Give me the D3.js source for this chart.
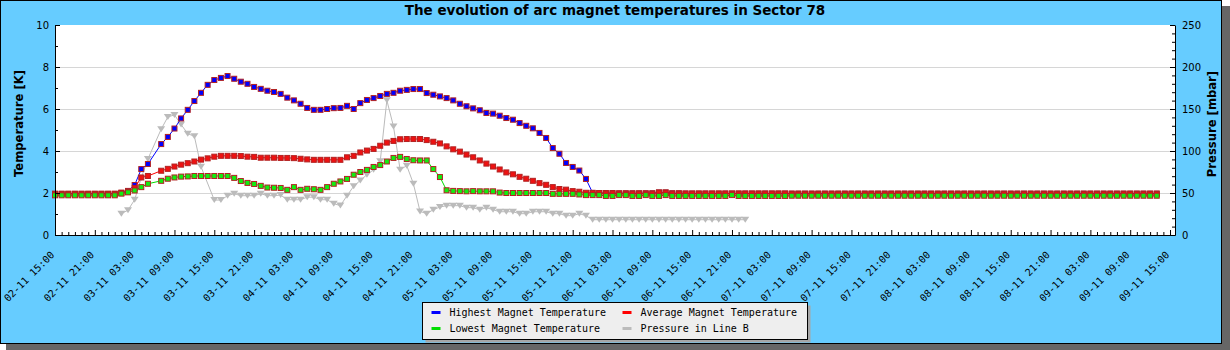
<!DOCTYPE html>
<html><head><meta charset="utf-8">
<script src="https://cdn.jsdelivr.net/npm/d3@7"></script>
<style>body{margin:0;background:#fff}svg{display:block}</style>
</head><body><svg id="c" width="1230" height="350"></svg>
<script>
// ---------- DATA ----------
const chartTitle = "The evolution of arc magnet temperatures in Sector 78";
const seriesNames = ["Highest Magnet Temperature","Average Magnet Temperature","Lowest Magnet Temperature","Pressure in Line B"];
const startTime = "2011-11-02 15:00";     // first temperature sample (hourly)
const axisEndTime = "2011-11-09 15:45";
const pressureStartTime = "2011-11-03 01:00"; // first pressure sample (hourly)
const tempTicks = [0,2,4,6,8,10];
const tempMinorTicks = [1,3,5,7,9];
const pressureTicks = [0,50,100,150,200,250];
const pressureMinorTicks = [10,20,30,40,60,70,80,90,110,120,130,140,160,170,180,190,210,220,230,240];

const highTemp = [
1.97,1.97,1.97,1.97,1.97,1.97,1.97,1.97,1.97,1.97,
2.02,2.10,2.38,3.14,3.38,null,4.33,4.67,5.07,5.55,
5.96,6.38,6.77,7.15,7.38,7.48,7.57,7.44,7.30,7.20,
7.05,6.96,6.87,6.81,6.72,6.54,6.41,6.25,6.05,5.96,
5.96,6.00,6.04,6.05,6.15,6.00,6.28,6.43,6.52,6.62,
6.72,6.77,6.87,6.91,6.95,6.95,6.76,6.68,6.60,6.52,
6.41,6.25,6.13,6.03,5.94,5.81,5.78,5.68,5.57,5.49,
5.33,5.20,5.08,4.86,4.62,4.14,3.87,3.43,3.24,3.07,
2.67,2.01,2.00,2.00,2.00,1.99,1.99,1.99,1.99,1.99,
1.99,2.03,2.03,1.99,1.99,1.98,1.98,1.98,1.98,1.98,
1.98,1.98,1.98,1.98,1.98,1.98,1.98,1.98,1.98,1.98,
1.98,1.98,1.98,1.98,1.98,1.98,1.98,1.98,1.98,1.98,
1.98,1.98,1.98,1.98,1.98,1.98,1.98,1.98,1.98,1.98,
1.98,1.98,1.98,1.98,1.98,1.98,1.98,1.98,1.98,1.98,
1.98,1.98,1.98,1.98,1.98,1.98,1.98,1.98,1.98,1.98,
1.98,1.98,1.98,1.98,1.98,1.98,1.98,1.98,1.98,1.98,
1.98,1.98,1.98,1.98,1.98,1.98,1.98];

const avgTemp = [
1.95,1.95,1.95,1.95,1.95,1.95,1.95,1.95,1.95,1.95,
2.00,2.05,2.24,2.74,2.81,null,3.06,3.15,3.26,3.35,
3.42,3.50,3.59,3.65,3.73,3.77,3.77,3.77,3.76,3.73,
3.72,3.68,3.68,3.68,3.67,3.67,3.66,3.63,3.60,3.58,
3.58,3.58,3.58,3.58,3.70,3.77,3.93,4.02,4.10,4.25,
4.40,4.48,4.56,4.57,4.57,4.57,4.52,4.44,4.36,4.22,
4.08,3.97,3.83,3.70,3.55,3.40,3.26,3.12,2.98,2.89,
2.77,2.68,2.58,2.47,2.39,2.28,2.19,2.16,2.09,2.06,
2.01,2.00,2.00,1.98,1.98,1.97,1.97,1.97,1.97,1.97,
1.97,2.02,2.02,1.97,1.97,1.97,1.97,1.97,1.97,1.97,
1.97,1.97,1.97,1.97,1.97,1.97,1.97,1.97,1.97,1.97,
1.97,1.95,1.95,1.95,1.95,1.95,1.95,1.95,1.95,1.95,
1.95,1.95,1.95,1.95,1.95,1.95,1.95,1.95,1.95,1.95,
1.95,1.95,1.95,1.95,1.95,1.95,1.95,1.95,1.95,1.95,
1.95,1.95,1.95,1.95,1.95,1.95,1.95,1.95,1.95,1.95,
1.95,1.95,1.95,1.95,1.95,1.95,1.95,1.95,1.95,1.95,
1.95,1.95,1.95,1.95,1.95,1.95,1.95];

const lowTemp = [
1.89,1.89,1.89,1.89,1.89,1.89,1.89,1.89,1.89,1.89,
1.97,2.03,2.12,2.28,2.44,null,2.58,2.68,2.74,2.78,
2.79,2.81,2.81,2.81,2.81,2.81,2.81,2.72,2.57,2.48,
2.43,2.34,2.26,2.25,2.24,2.15,2.28,2.15,2.20,2.18,
2.15,2.28,2.44,2.55,2.67,2.87,3.00,3.10,3.24,3.33,
3.50,3.67,3.72,3.62,3.56,3.55,3.55,3.14,2.76,2.13,
2.10,2.09,2.08,2.09,2.08,2.08,2.08,2.02,2.00,2.00,
2.00,2.00,2.00,2.00,2.00,1.96,1.96,1.96,1.96,1.93,
1.90,1.90,1.90,1.86,1.86,1.90,1.90,1.86,1.86,1.90,
1.86,1.86,1.90,1.86,1.86,1.86,1.86,1.86,1.86,1.86,
1.86,1.86,1.90,1.86,1.86,1.86,1.86,1.86,1.86,1.86,
1.86,1.87,1.87,1.87,1.87,1.87,1.87,1.87,1.87,1.87,
1.87,1.87,1.87,1.87,1.87,1.87,1.87,1.87,1.87,1.87,
1.87,1.87,1.87,1.87,1.87,1.87,1.87,1.87,1.87,1.87,
1.87,1.87,1.87,1.87,1.87,1.87,1.87,1.87,1.87,1.87,
1.87,1.87,1.87,1.87,1.87,1.87,1.87,1.87,1.87,1.87,
1.87,1.87,1.87,1.87,1.87,1.87,1.87];

const pressureB = [
25.4,29.6,42.0,68.0,90.5,null,126.0,140.5,143.0,131.5,
120.6,117.5,81.3,null,41.6,41.6,46.8,49.2,46.8,46.8,
46.8,49.2,46.8,46.8,47.5,42.0,42.0,42.0,45.0,45.0,
42.0,42.0,37.3,35.0,46.8,58.0,65.0,71.8,77.7,87.7,
160.3,129.3,77.7,82.5,61.1,28.1,25.4,30.1,33.3,34.9,
34.9,34.9,32.5,32.5,30.1,32.5,30.1,27.7,27.7,27.7,
25.4,25.4,27.7,27.7,27.7,25.4,25.4,23.0,23.0,25.4,
23.0,18.2,18.2,18.2,18.2,18.2,18.2,18.2,18.2,18.2,
18.2,18.2,18.2,18.2,18.2,18.2,18.2,18.2,18.2,18.2,
18.2,18.2,18.2,18.2,18.2];

// ---------- STYLE ----------
const C = {bg:"#66ccff", high:"#0000ff", avg:"#ff0000", low:"#00dd00", pres:"#bbbbbb",
  highFill:"#0000ff", avgFill:"#ee1111", lowFill:"#11ee11", markEdge:"#b22222", grid:"#d6d6d6"};
const L = 55, R = 1175, T = 25, B = 235;
const sansF = "'DejaVu Sans', Verdana, sans-serif";
const monoF = "'DejaVu Sans Mono', monospace";

const svg = d3.select("#c");
// outer frame with shadow
svg.append("rect").attr("x",6).attr("y",6).attr("width",1224).attr("height",344).attr("fill","#666666");
svg.append("rect").attr("x",0.5).attr("y",0.5).attr("width",1221).attr("height",343)
  .attr("fill",C.bg).attr("stroke","#000");

// plot area
svg.append("rect").attr("x",L).attr("y",T).attr("width",R-L).attr("height",B-T).attr("fill","#fff");

const parseT = d3.utcParse("%Y-%m-%d %H:%M");
const t0 = parseT(startTime), tEnd = parseT(axisEndTime), tp0 = parseT(pressureStartTime);
const x = d3.scaleUtc().domain([t0, tEnd]).range([L, R]);
const yT = d3.scaleLinear().domain([0,10]).range([B, T]);
const yP = d3.scaleLinear().domain([0,250]).range([B, T]);

// gridlines
svg.append("g").selectAll("line").data(tempTicks.filter(v=>v>0 && v<10)).join("line")
  .attr("x1",L+1).attr("x2",R).attr("y1",d=>Math.round(yT(d))+0.5).attr("y2",d=>Math.round(yT(d))+0.5)
  .attr("stroke",C.grid).attr("stroke-width",1);

const toPts = (arr, start) => arr.map((v,i)=>({t:d3.utcHour.offset(start,i), v})).filter(d=>d.v!=null);

// pressure
const pPts = toPts(pressureB, tp0);
svg.append("path").datum(pPts).attr("fill","none").attr("stroke",C.pres).attr("stroke-width",1)
  .attr("d", d3.line().x(d=>x(d.t)).y(d=>yP(d.v)));
svg.append("g").selectAll("path").data(pPts).join("path")
  .attr("transform",d=>`translate(${x(d.t)},${yP(d.v)})`)
  .attr("d","M-4,-3L4,-3L0,3Z").attr("fill",C.pres);

function drawTemp(arr, lineCol, fill){
  const pts = toPts(arr, t0);
  svg.append("path").datum(pts).attr("fill","none").attr("stroke",lineCol).attr("stroke-width",1)
    .attr("d", d3.line().x(d=>x(d.t)).y(d=>yT(d.v)));
  svg.append("g").selectAll("rect").data(pts).join("rect")
    .attr("x",d=>x(d.t)-2.5).attr("y",d=>yT(d.v)-2.5).attr("width",5).attr("height",5)
    .attr("fill",fill).attr("stroke",C.markEdge).attr("stroke-width",1);
}
drawTemp(highTemp, C.high, C.highFill);
drawTemp(avgTemp, C.avg, C.avgFill);
drawTemp(lowTemp, C.low, C.lowFill);

// axes
const majorX = d3.range(0,169,6).map(h=>d3.utcHour.offset(t0,h));
const minorX = d3.range(0,169).filter(h=>h%6).map(h=>d3.utcHour.offset(t0,h));
const fmt = d3.utcFormat("%d-%m %H:%M");

function styleAxis(g){ g.selectAll("path,line").attr("stroke","#000"); }

const gxMinor = svg.append("g").attr("transform",`translate(0,${B})`)
  .call(d3.axisBottom(x).tickValues(minorX).tickSizeInner(-3).tickSizeOuter(0).tickFormat(""));
gxMinor.select(".domain").remove(); styleAxis(gxMinor);
const gx = svg.append("g").attr("transform",`translate(0,${B})`)
  .call(d3.axisBottom(x).tickValues(majorX).tickSizeInner(-5).tickSizeOuter(0).tickFormat(fmt));
styleAxis(gx);
gx.selectAll("text").attr("font-family",monoF).attr("font-size",10).attr("fill","#000")
  .attr("text-anchor","end").attr("x",0).attr("y",0).attr("dy","0.35em")
  .attr("transform","translate(-3,18) rotate(-45)");

const gyMinor = svg.append("g").attr("transform",`translate(${L},0)`)
  .call(d3.axisLeft(yT).tickValues(tempMinorTicks).tickSizeInner(-3).tickSizeOuter(0).tickFormat(""));
gyMinor.select(".domain").remove(); styleAxis(gyMinor);
const gy = svg.append("g").attr("transform",`translate(${L},0)`)
  .call(d3.axisLeft(yT).tickValues(tempTicks).tickSizeInner(-5).tickSizeOuter(0).tickPadding(6));
styleAxis(gy);
gy.selectAll("text").attr("font-family",sansF).attr("font-size",10).attr("fill","#000");

const gpMinor = svg.append("g").attr("transform",`translate(${R},0)`)
  .call(d3.axisRight(yP).tickValues(pressureMinorTicks).tickSizeInner(-3).tickSizeOuter(0).tickFormat(""));
gpMinor.select(".domain").remove(); styleAxis(gpMinor);
const gp = svg.append("g").attr("transform",`translate(${R},0)`)
  .call(d3.axisRight(yP).tickValues(pressureTicks).tickSizeInner(-5).tickSizeOuter(0).tickPadding(7));
styleAxis(gp);
gp.selectAll("text").attr("font-family",sansF).attr("font-size",10).attr("fill","#000");

// titles
svg.append("text").attr("x",(L+R)/2).attr("y",15).attr("text-anchor","middle")
  .attr("font-family",sansF).attr("font-weight","bold").attr("font-size",13.5).text(chartTitle);
svg.append("text").attr("transform","translate(22.5,123.5) rotate(-90)").attr("text-anchor","middle")
  .attr("font-family",sansF).attr("font-weight","bold").attr("font-size",11.6).text("Temperature [K]");
svg.append("text").attr("transform","translate(1215.5,124) rotate(-90)").attr("text-anchor","middle")
  .attr("font-family",sansF).attr("font-weight","bold").attr("font-size",11.6).text("Pressure [mbar]");

// legend
const lg = svg.append("g");
lg.append("rect").attr("x",425.5).attr("y",305.5).attr("width",385).attr("height",37).attr("fill","#a6a6a6");
lg.append("rect").attr("x",422.5).attr("y",302.5).attr("width",385).attr("height",37)
  .attr("fill","#eeeeee").attr("stroke","#000");
const legendItems = [
  {name:seriesNames[0], col:C.high, cx:431.5, cy:311},
  {name:seriesNames[1], col:C.avg, cx:622.5, cy:311},
  {name:seriesNames[2], col:C.low, cx:431.5, cy:327},
  {name:seriesNames[3], col:C.pres, cx:622.5, cy:327}];
legendItems.forEach(it=>{
  lg.append("rect").attr("x",it.cx).attr("y",it.cy).attr("width",9).attr("height",3).attr("fill",it.col);
  lg.append("text").attr("x",it.cx+18).attr("y",it.cy+5.3).attr("font-family",monoF).attr("font-size",10)
    .attr("fill","#000").text(it.name);
});
</script></body></html>
